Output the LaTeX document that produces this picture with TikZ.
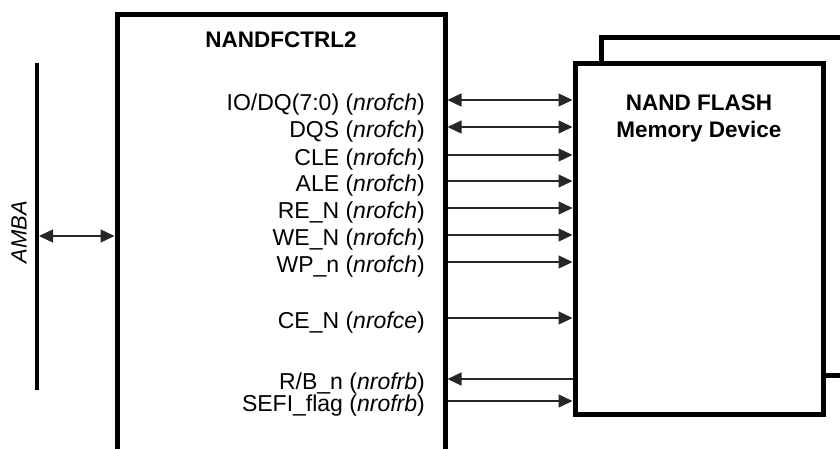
\documentclass[tikz,border=0pt]{standalone}
\usepackage{fontspec}
\setmainfont{Liberation Sans}
\usetikzlibrary{arrows.meta}
\begin{document}
\begin{tikzpicture}[x=1pt,y=-1pt,
  thickbox/.style={draw=black,line width=5pt,inner sep=0pt,minimum width=#1},
  sig/.style={draw=black!85,line width=1.3pt},
  tip/.style={-{Triangle[length=14pt,width=13pt]}},
  bitip/.style={{Triangle[length=14pt,width=13pt]}-{Triangle[length=14pt,width=13pt]}},
  rtip/.style={{Triangle[length=14pt,width=13pt]}-},
  lbl/.style={anchor=base east,font=\fontsize{23}{24}\selectfont,inner sep=0pt},
  title/.style={font=\fontsize{22.5}{24}\selectfont\bfseries,inner sep=0pt,anchor=base}]
\useasboundingbox (0,0) rectangle (840,448);
\clip (0,0) rectangle (840,448);
% controller box (extends below picture)
\node[thickbox=328pt,minimum height=476pt] (ctrl) at (281,252) {};
% back memory box
\node[thickbox=269pt,minimum height=338pt,fill=white] (back) at (735.5,206) {};
% front memory box
\node[thickbox=248pt,minimum height=351pt,fill=white] (mem) at (699,238.5) {};
% titles
\node[title] (ctitle) at (281,47) {NANDFCTRL2};
\node[title] (mtitle1) at (699,110) {NAND FLASH};
\node[title] (mtitle2) at (699,137) {Memory Device};
% AMBA bus
\node[fill=black,minimum width=4pt,minimum height=327pt,inner sep=0pt,outer sep=0pt] (bus) at (37,226.5) {};
\node[rotate=90,font=\fontsize{22}{24}\selectfont\itshape,inner sep=0pt] (amba) at (19,232) {AMBA};
\coordinate (by) at (0,236);
\draw[sig,bitip] (bus.east |- by) -- (ctrl.west |- by);
% signal labels
\foreach \n/\y/\t in {io/100/{IO/DQ(7:0) (\textit{nrofch})},
                      dqs/127/{DQS (\textit{nrofch})},
                      cle/155/{CLE (\textit{nrofch})},
                      ale/181/{ALE (\textit{nrofch})},
                      re/208/{RE\_N (\textit{nrofch})},
                      we/235/{WE\_N (\textit{nrofch})},
                      wp/262/{WP\_n (\textit{nrofch})},
                      ce/318/{CE\_N (\textit{nrofce})},
                      rb/379/{R/B\_n (\textit{nrofrb})},
                      sefi/401/{SEFI\_flag (\textit{nrofrb})}}{
  \node[lbl] (l\n) at (425,\y+10) {\t};
  \coordinate (y\n) at (0,\y);
}
\draw[sig,bitip] (ctrl.east |- yio) -- (mem.west |- yio);
\draw[sig,bitip] (ctrl.east |- ydqs) -- (mem.west |- ydqs);
\foreach \n in {cle,ale,re,we,wp,ce,sefi}
  \draw[sig,tip] (ctrl.east |- y\n) -- (mem.west |- y\n);
\draw[sig,rtip] (ctrl.east |- yrb) -- (mem.west |- yrb);
\end{tikzpicture}
\end{document}
